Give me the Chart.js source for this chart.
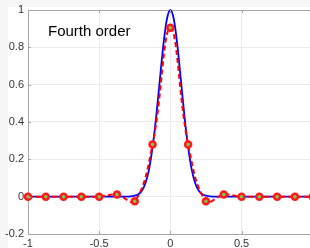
<!DOCTYPE html>
<html lang="en">
<head>
    <meta charset="UTF-8">
    <title>Fourth order</title>
    <style>
        html, body {
            margin: 0;
            padding: 0;
            background: #f7f7f7;
        }
    </style>
    <script src="https://cdn.jsdelivr.net/npm/chart.js"></script>
</head>
<body>
    <canvas id="chart" width="310" height="248"></canvas>
    <script>
        // sample points (markers + dashed interpolant)
        const sampleX = [-1, -0.875, -0.75, -0.625, -0.5, -0.375, -0.25, -0.125, 0, 0.125, 0.25, 0.375, 0.5, 0.625, 0.75, 0.875, 1];
        const sampleY = [0, 0, 0, 0, 0, 0.011, -0.025, 0.28, 0.905, 0.28, -0.025, 0.011, 0, 0, 0, 0, 0];

        // exact curve
        const exactX = [-1, -0.3, -0.275, -0.25, -0.225, -0.2, -0.175, -0.15, -0.125, -0.1, -0.075, -0.05, -0.025, 0,
                        0.025, 0.05, 0.075, 0.1, 0.125, 0.15, 0.175, 0.2, 0.225, 0.25, 0.275, 0.3, 1];
        const exactY = [0, 0, 0.002, 0.005, 0.013, 0.032, 0.072, 0.145, 0.265, 0.425, 0.617, 0.807, 0.948, 1,
                        0.948, 0.807, 0.617, 0.425, 0.265, 0.145, 0.072, 0.032, 0.013, 0.005, 0.002, 0, 0];

        const xTicks = [-1, -0.5, 0, 0.5];
        const yTicks = [-0.2, 0, 0.2, 0.4, 0.6, 0.8, 1];
        const titleText = 'Fourth order';

        const axisColor = '#a6a6a6';
        const gridColor = '#ebebeb';

        const toPoints = (xs, ys) => xs.map((x, i) => ({ x: x, y: ys[i] }));

        // white figure area + inward ticks + title
        const decor = {
            id: 'decor',
            beforeDraw(chart) {
                const ctx = chart.ctx;
                ctx.save();
                ctx.fillStyle = '#f7f7f7';
                ctx.fillRect(0, 0, chart.width, chart.height);
                ctx.fillStyle = '#ffffff';
                ctx.fillRect(8, 7, chart.width - 8, chart.height - 7);
                ctx.restore();
            },
            afterDatasetsDraw(chart) {
                const ctx = chart.ctx;
                const a = chart.chartArea;
                const xs = chart.scales.x;
                const ys = chart.scales.y;
                ctx.save();
                ctx.strokeStyle = axisColor;
                ctx.lineWidth = 1;
                ctx.beginPath();
                xTicks.forEach(v => {
                    const px = Math.round(xs.getPixelForValue(v)) + 0.5;
                    ctx.moveTo(px, a.top);
                    ctx.lineTo(px, a.top + 3);
                    ctx.moveTo(px, a.bottom);
                    ctx.lineTo(px, a.bottom - 3);
                });
                yTicks.forEach(v => {
                    const py = Math.round(ys.getPixelForValue(v)) + 0.5;
                    ctx.moveTo(a.left, py);
                    ctx.lineTo(a.left + 3, py);
                });
                ctx.stroke();
                ctx.fillStyle = '#000000';
                ctx.font = '15px "Liberation Sans", Arial, sans-serif';
                ctx.textBaseline = 'alphabetic';
                ctx.fillText(titleText, 48, 36);
                ctx.restore();
            }
        };

        new Chart(document.getElementById('chart'), {
            type: 'line',
            data: {
                datasets: [
                    {
                        label: 'samples',
                        data: toPoints(sampleX, sampleY),
                        borderColor: '#ff0000',
                        borderWidth: 2,
                        borderDash: [5, 3],
                        tension: 0.4,
                        pointRadius: 3,
                        pointBorderWidth: 2.5,
                        pointBorderColor: '#ff1a1a',
                        pointBackgroundColor: '#7acb55',
                        clip: false
                    },
                    {
                        label: 'exact',
                        data: toPoints(exactX, exactY),
                        borderColor: '#0000ff',
                        borderWidth: 1.8,
                        cubicInterpolationMode: 'monotone',
                        pointRadius: 0,
                        clip: false
                    }
                ]
            },
            options: {
                responsive: false,
                animation: false,
                layout: { autoPadding: false, padding: { top: 10, right: 0, left: 0, bottom: 0 } },
                plugins: {
                    legend: { display: false },
                    tooltip: { enabled: false }
                },
                scales: {
                    x: {
                        type: 'linear',
                        min: -1,
                        max: 0.981,
                        afterFit: s => { s.height = 14; s.paddingLeft = 0; s.paddingRight = 0; },
                        afterBuildTicks: s => { s.ticks = xTicks.map(v => ({ value: v })); },
                        border: { color: axisColor, width: 1 },
                        grid: { color: gridColor, drawTicks: false },
                        ticks: {
                            padding: 3,
                            color: '#333333',
                            font: { family: '"Liberation Sans", Arial, sans-serif', size: 11 },
                            maxRotation: 0,
                            callback: v => String(v)
                        }
                    },
                    y: {
                        type: 'linear',
                        min: -0.2,
                        max: 1,
                        afterFit: s => { s.width = 28; s.paddingTop = 0; s.paddingBottom = 0; },
                        afterBuildTicks: s => { s.ticks = yTicks.map(v => ({ value: v })); },
                        border: { color: axisColor, width: 1 },
                        grid: {
                            color: ctx => (ctx.tick && ctx.tick.value === 1) ? axisColor : gridColor,
                            drawTicks: false
                        },
                        ticks: {
                            padding: 4,
                            color: '#333333',
                            font: { family: '"Liberation Sans", Arial, sans-serif', size: 11 },
                            callback: v => String(Math.round(v * 10) / 10)
                        }
                    }
                }
            },
            plugins: [decor]
        });
    </script>
</body>
</html>
